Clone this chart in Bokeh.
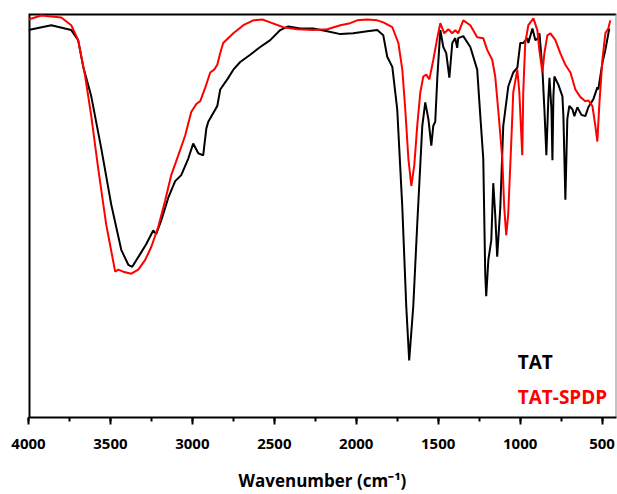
from bokeh.plotting import figure
from bokeh.models import Range1d, SingleIntervalTicker, Label, LinearAxis
from bokeh.embed import file_html
from bokeh.resources import INLINE

# TAT spectrum (wavenumber cm-1, transmittance a.u.)
tat_wavenumber = [4000, 3861, 3739, 3697, 3666, 3617, 3556, 3495, 3434, 3391, 3367, 3318, 3282,
                  3239, 3221, 3190, 3147, 3105, 3068, 3025, 2995, 2964, 2934, 2915, 2903, 2848,
                  2830, 2787, 2750, 2708, 2647, 2586, 2525, 2464, 2415, 2342, 2262, 2177, 2097,
                  2018, 1933, 1872, 1835, 1811, 1780, 1750, 1719, 1695, 1677, 1652, 1628, 1597,
                  1579, 1560, 1542, 1530, 1518, 1505, 1487, 1469, 1451, 1432, 1414, 1396, 1384,
                  1378, 1347, 1304, 1262, 1243, 1225, 1213, 1207, 1194, 1176, 1164, 1152, 1140,
                  1121, 1103, 1072, 1042, 1017, 999, 980, 956, 950, 925, 907, 895, 882, 864, 852,
                  840, 828, 821, 809, 803, 797, 791, 767, 742, 736, 724, 712, 700, 681, 669, 651,
                  626, 602, 584, 553, 529, 523, 498, 480, 456]
tat_transmittance = [95.9, 97.1, 95.9, 93.4, 86.8, 79.5, 66.6, 52.7, 41.5, 37.8, 37.3, 40.5, 42.9,
                     46.3, 45.4, 48.8, 54.4, 58.5, 60.0, 64.1, 67.8, 65.4, 64.9, 71.5, 73.2, 77.1,
                     81.2, 83.7, 86.1, 88.0, 89.8, 91.7, 93.4, 95.9, 96.8, 96.3, 96.3, 95.6, 94.9,
                     95.1, 95.6, 95.9, 94.6, 89.3, 86.8, 76.3, 52.0, 27.6, 14.1, 27.6, 47.8, 72.2,
                     78.0, 73.9, 67.3, 72.2, 73.2, 84.4, 95.9, 91.7, 90.2, 84.1, 92.7, 93.9, 91.5,
                     93.9, 94.4, 91.7, 86.1, 74.6, 64.1, 35.6, 30.0, 39.0, 43.9, 58.0, 50.2, 39.8,
                     52.0, 72.2, 82.0, 85.4, 86.6, 92.7, 92.7, 93.9, 92.7, 96.3, 93.4, 93.7, 95.1,
                     86.1, 76.3, 64.9, 78.8, 84.1, 76.3, 63.7, 79.5, 84.4, 82.4, 79.5, 74.6, 53.9,
                     73.9, 77.1, 76.3, 74.6, 76.8, 74.9, 74.6, 76.8, 78.8, 81.7, 81.2, 87.8, 91.0,
                     96.3]

# TAT-SPDP spectrum
spdp_wavenumber = [4000, 3922, 3800, 3739, 3697, 3654, 3617, 3575, 3526, 3471, 3452, 3422, 3373,
                   3330, 3288, 3251, 3209, 3166, 3129, 3086, 3044, 3007, 2976, 2952, 2921, 2891,
                   2867, 2848, 2830, 2812, 2750, 2689, 2628, 2573, 2525, 2445, 2360, 2262, 2177,
                   2097, 2037, 1994, 1933, 1872, 1835, 1780, 1743, 1719, 1701, 1682, 1664, 1646,
                   1628, 1609, 1591, 1573, 1554, 1530, 1505, 1487, 1463, 1438, 1414, 1396, 1378,
                   1347, 1304, 1262, 1225, 1201, 1170, 1152, 1134, 1109, 1097, 1085, 1073, 1054,
                   1042, 1017, 1005, 987, 981, 969, 950, 919, 895, 883, 864, 852, 834, 815, 785,
                   755, 724, 693, 663, 632, 602, 584, 559, 541, 529, 516, 498, 480, 462, 450]
spdp_transmittance = [98.5, 99.5, 99.0, 97.1, 93.4, 84.4, 74.6, 61.7, 47.8, 36.1, 36.6, 36.1, 35.6,
                      36.6, 39.0, 42.2, 47.1, 53.7, 60.0, 64.9, 69.8, 75.6, 77.6, 78.3, 81.7, 85.4,
                      86.1, 87.3, 90.2, 92.7, 95.1, 97.1, 98.3, 98.5, 97.8, 96.6, 96.1, 95.9, 96.1,
                      97.1, 97.6, 98.3, 98.5, 98.3, 97.8, 96.6, 92.7, 86.1, 76.3, 64.1, 57.3, 62.4,
                      72.2, 80.5, 84.4, 84.9, 83.7, 88.5, 94.1, 97.6, 95.1, 96.1, 95.1, 95.9, 95.1,
                      98.3, 97.1, 94.1, 93.9, 91.0, 88.5, 84.4, 76.3, 64.1, 52.0, 45.1, 50.2, 68.3,
                      80.5, 86.1, 80.5, 64.9, 80.5, 92.7, 97.1, 98.8, 95.9, 91.0, 85.4, 90.2, 94.6,
                      95.1, 93.4, 90.2, 87.3, 85.4, 81.2, 79.3, 78.3, 78.5, 77.1, 72.2, 68.3, 78.0,
                      88.5, 95.1, 96.3, 98.3]

series_names = ["TAT", "TAT-SPDP"]
series_colors = ["black", "red"]

X_START, X_END = 4000, 412
Y_MIN, Y_MAX = 0, 100

FONT = "Open Sans"

p = figure(width=617, height=494, output_backend="svg", toolbar_location=None,
           x_range=Range1d(X_START, X_END), y_range=Range1d(Y_MIN, Y_MAX),
           x_axis_location=None, y_axis_location=None,
           min_border_left=28, min_border_right=1, min_border_top=13, min_border_bottom=71)

p.xgrid.visible = False
p.ygrid.visible = False
p.outline_line_color = None
p.background_fill_color = "white"
p.border_fill_color = "white"

# frame box (left and top dark, right thin grey) along the range limits
p.line([X_START, X_START, X_END], [Y_MIN, Y_MAX, Y_MAX], line_color="black", line_width=4)
p.line([X_END, X_END], [Y_MIN, Y_MAX], line_color="#8a8a8a", line_width=2)

p.line(tat_wavenumber, tat_transmittance, line_color=series_colors[0], line_width=2)
p.line(spdp_wavenumber, spdp_transmittance, line_color=series_colors[1], line_width=2)

ax = LinearAxis(ticker=SingleIntervalTicker(interval=500, num_minor_ticks=2))
ax.axis_line_width = 2
ax.axis_line_color = "black"
ax.major_tick_line_width = 2
ax.minor_tick_line_width = 2
ax.major_tick_out = 7
ax.major_tick_in = 0
ax.minor_tick_out = 4
ax.minor_tick_in = 0
ax.major_label_text_font = FONT
ax.major_label_text_font_style = "bold"
ax.major_label_text_font_size = "15px"
ax.major_label_text_color = "black"
ax.major_label_standoff = 14
ax.axis_label = "Wavenumber (cm\u207b\u00b9)"
ax.axis_label_text_font = FONT
ax.axis_label_text_font_style = "bold"
ax.axis_label_text_font_size = "17px"
ax.axis_label_text_color = "black"
ax.axis_label_standoff = 17
p.add_layout(ax, "below")

p.add_layout(Label(x=1015, y=13.7, text=series_names[0], text_color=series_colors[0],
                   text_font=FONT, text_font_style="bold", text_font_size="19px",
                   text_baseline="middle"))
p.add_layout(Label(x=1015, y=5.1, text=series_names[1], text_color=series_colors[1],
                   text_font=FONT, text_font_style="bold", text_font_size="19px",
                   text_baseline="middle"))

open("out.html", "w").write(file_html(p, INLINE))
